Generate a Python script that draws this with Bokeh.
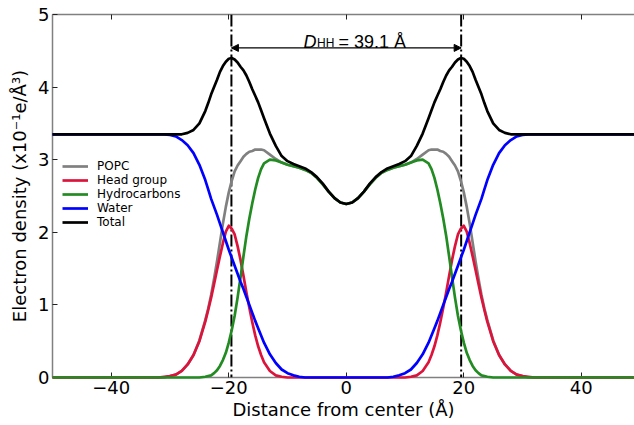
from bokeh.plotting import figure
from bokeh.models import (Range1d, FixedTicker, LinearAxis, Span, Arrow, NormalHead,
                          Label, Legend, LegendItem, CustomJSTickFormatter)
from bokeh.embed import file_html
from bokeh.resources import INLINE

# ---------------- data ----------------
# distance from center (Å): 1 Å steps, 0.5 Å steps through the head-group peaks
x_vals = (list(range(-50, -24)) + [-24 + 0.5 * i for i in range(21)] +
          list(range(-13, 14)) + [14 + 0.5 * i for i in range(21)] + list(range(25, 51)))

head = ([0.0] * 18 +
        [0.00, 0.01, 0.02, 0.04, 0.09, 0.18, 0.31, 0.50] +
        [0.77, 0.93, 1.10, 1.29, 1.48, 1.67, 1.85, 2.01, 2.09, 2.05, 1.97,
         1.81, 1.62, 1.40, 1.17, 0.96, 0.76, 0.58, 0.43, 0.31, 0.21] +
        [0.09, 0.03, 0.01] + [0.0] * 21 + [0.01, 0.03, 0.09] +
        [0.21, 0.31, 0.43, 0.58, 0.76, 0.96, 1.17, 1.40, 1.62, 1.81, 1.97,
         2.05, 2.09, 2.01, 1.85, 1.67, 1.48, 1.29, 1.10, 0.93, 0.77] +
        [0.50, 0.31, 0.18, 0.09, 0.04, 0.02, 0.01, 0.00] +
        [0.0] * 18)

hydro = ([0.0] * 26 +
         [0.01, 0.02, 0.03, 0.06, 0.10, 0.16, 0.24, 0.34, 0.48, 0.65, 0.85,
          1.10, 1.38, 1.67, 1.95, 2.19, 2.40, 2.59, 2.75, 2.87, 2.95] +
         [3.00, 2.99, 2.96, 2.93, 2.91, 2.89, 2.86, 2.82, 2.75, 2.66, 2.56, 2.47, 2.41,
          2.39,
          2.41, 2.47, 2.56, 2.66, 2.75, 2.82, 2.86, 2.89, 2.91, 2.93, 2.96, 2.99, 3.00] +
         [2.95, 2.87, 2.75, 2.59, 2.40, 2.19, 1.95, 1.67, 1.38, 1.10, 0.85,
          0.65, 0.48, 0.34, 0.24, 0.16, 0.10, 0.06, 0.03, 0.02, 0.01] +
         [0.0] * 26)

popc = ([0.0] * 20 +
        [0.02, 0.04, 0.09, 0.18, 0.31, 0.51] +
        [0.79, 0.95, 1.14, 1.36, 1.60, 1.86, 2.12, 2.35, 2.55, 2.71, 2.84,
         2.92, 2.98, 3.04, 3.08, 3.11, 3.12, 3.14, 3.14, 3.14, 3.13] +
        [3.07, 3.01, 2.96, 2.93, 2.91, 2.89, 2.86, 2.82, 2.75, 2.66, 2.56, 2.47, 2.41,
         2.39,
         2.41, 2.47, 2.56, 2.66, 2.75, 2.82, 2.86, 2.89, 2.91, 2.93, 2.96, 3.01, 3.07] +
        [3.13, 3.14, 3.14, 3.14, 3.12, 3.11, 3.08, 3.04, 2.98, 2.92, 2.84,
         2.71, 2.55, 2.35, 2.12, 1.86, 1.60, 1.36, 1.14, 0.95, 0.79] +
        [0.51, 0.31, 0.18, 0.09, 0.04, 0.02] +
        [0.0] * 20)

water = ([3.35] * 20 +
         [3.34, 3.32, 3.27, 3.20, 3.09, 2.93] +
         [2.72, 2.59, 2.46, 2.35, 2.24, 2.12, 2.00, 1.88, 1.76, 1.65, 1.54,
          1.43, 1.32, 1.22, 1.11, 1.00, 0.89, 0.78, 0.68, 0.58, 0.48] +
         [0.32, 0.20, 0.11, 0.06, 0.03, 0.01, 0.00] + [0.0] * 13 +
         [0.00, 0.01, 0.03, 0.06, 0.11, 0.20, 0.32] +
         [0.48, 0.58, 0.68, 0.78, 0.89, 1.00, 1.11, 1.22, 1.32, 1.43, 1.54,
          1.65, 1.76, 1.88, 2.00, 2.12, 2.24, 2.35, 2.46, 2.59, 2.72] +
         [2.93, 3.09, 3.20, 3.27, 3.32, 3.34] +
         [3.35] * 20)

total = ([3.35] * 22 +
         [3.35, 3.37, 3.41, 3.50] +
         [3.67, 3.78, 3.90, 4.00, 4.10, 4.21, 4.29, 4.35, 4.39, 4.40, 4.38,
          4.34, 4.28, 4.23, 4.16, 4.07, 3.97, 3.88, 3.79, 3.68, 3.57] +
         [3.36, 3.19, 3.05, 2.98, 2.94, 2.91, 2.88, 2.83, 2.76, 2.67, 2.56, 2.47, 2.41,
          2.39,
          2.41, 2.47, 2.56, 2.67, 2.76, 2.83, 2.88, 2.91, 2.94, 2.98, 3.05, 3.19, 3.36] +
         [3.57, 3.68, 3.79, 3.88, 3.97, 4.07, 4.16, 4.23, 4.28, 4.34, 4.38,
          4.40, 4.39, 4.35, 4.29, 4.21, 4.10, 4.00, 3.90, 3.78, 3.67] +
         [3.50, 3.41, 3.37, 3.35] +
         [3.35] * 22)

series_names = ["POPC", "Head group", "Hydrocarbons", "Water", "Total"]
series_colors = ["#808080", "#dc143c", "#228b22", "#0000ff", "#000000"]

x_ticks = [-40, -20, 0, 20, 40]
y_ticks = [0, 1, 2, 3, 4, 5]
headgroup_peaks = [-19.55, 19.55]
d_hh = 39.1
arrow_level = 4.54
label_pos = (-7.27, 4.624)

# ---------------- figure ----------------
p = figure(width=634, height=425, output_backend="svg", toolbar_location=None,
           x_range=Range1d(-50, 49.05), y_range=Range1d(0, 5),
           min_border_left=52, min_border_right=0, min_border_top=14, min_border_bottom=48,
           x_axis_label="Distance from center (Å)",
           y_axis_label="Electron density (x10⁻¹e/Å³)")
p.grid.visible = False
p.outline_line_color = None
p.background_fill_color = "white"
p.border_fill_color = "white"

minus_fmt = CustomJSTickFormatter(code="return tick < 0 ? '\u2212' + Math.abs(tick) : '' + tick;")


def style(ax):
    ax.axis_line_color = "#808080"
    ax.axis_line_width = 1.5
    ax.major_tick_in = 5
    ax.major_tick_out = 0
    ax.major_tick_line_color = "#222222"
    ax.major_tick_line_width = 1
    ax.minor_tick_line_color = None
    ax.major_label_text_font = "DejaVu Sans"
    ax.major_label_text_font_size = "18px"
    ax.major_label_text_color = "black"
    ax.axis_label_text_font = "DejaVu Sans"
    ax.axis_label_text_font_size = "18px"
    ax.axis_label_text_font_style = "normal"
    ax.axis_label_text_color = "black"
    ax.major_label_standoff = 3


xa = p.xaxis[0]
style(xa)
xa.ticker = FixedTicker(ticks=x_ticks)
xa.formatter = minus_fmt
xa.axis_label_standoff = 2

ya = p.yaxis[0]
style(ya)
ya.ticker = FixedTicker(ticks=y_ticks)
ya.axis_label_standoff = 5

top = LinearAxis(ticker=FixedTicker(ticks=x_ticks),
                 formatter=CustomJSTickFormatter(code="return '';"))
style(top)
top.major_label_standoff = 0
top.major_label_text_font_size = "1px"
p.add_layout(top, "above")

# ---------------- curves ----------------
renderers = []
for ys, name, col in zip([popc, head, hydro, water, total], series_names, series_colors):
    r = p.line(x_vals, ys, line_color=col, line_width=2.7, line_join="round", level="overlay")
    renderers.append(r)

legend = Legend(items=[LegendItem(label=n, renderers=[r]) for n, r in zip(series_names, renderers)],
                location=(10, 148), orientation="vertical",
                label_text_font="DejaVu Sans", label_text_font_size="12px",
                label_text_color="black",
                glyph_width=26, glyph_height=14, label_height=14, label_standoff=9,
                spacing=0, padding=0, margin=0,
                border_line_color=None, background_fill_alpha=0)
p.add_layout(legend)

# ---------------- annotations ----------------
for v in headgroup_peaks:
    p.add_layout(Span(location=v, dimension="height", line_color="black",
                      line_width=2, line_dash="12 3 2 3"))

p.add_layout(Arrow(start=NormalHead(size=7, fill_color="black", line_color="black", line_width=1),
                   end=NormalHead(size=7, fill_color="black", line_color="black", line_width=1),
                   x_start=headgroup_peaks[0], y_start=arrow_level,
                   x_end=headgroup_peaks[1], y_end=arrow_level,
                   line_color="black", line_width=1.2))

p.add_layout(Label(x=label_pos[0], y=label_pos[1], text="D", text_font="Liberation Sans",
                   text_font_size="18px", text_font_style="italic", text_color="black",
                   text_baseline="alphabetic", text_align="left"))
p.add_layout(Label(x=label_pos[0], y=label_pos[1], x_offset=13.5, y_offset=-1, text="HH",
                   text_font="Liberation Sans", text_font_size="12px", text_color="black",
                   text_baseline="alphabetic", text_align="left"))
p.add_layout(Label(x=label_pos[0], y=label_pos[1], x_offset=35, text=f"= {d_hh} Å",
                   text_font="Liberation Sans", text_font_size="18px", text_color="black",
                   text_baseline="alphabetic", text_align="left"))

open("out.html", "w").write(file_html(p, INLINE))
